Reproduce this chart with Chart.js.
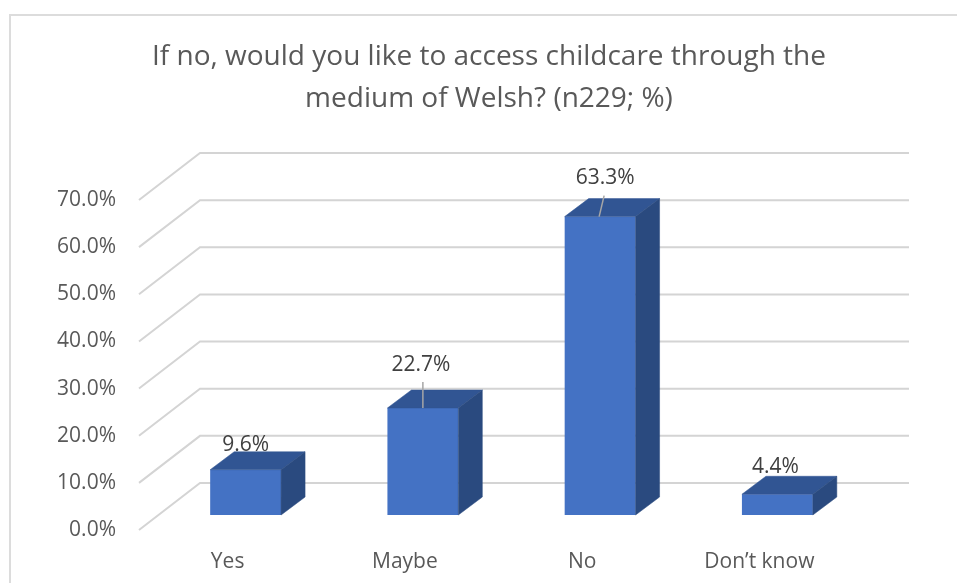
<!DOCTYPE html>
<html>
<head>
<meta charset="utf-8">
<title>Welsh medium childcare</title>
<script src="https://cdn.jsdelivr.net/npm/chart.js@4"></script>
<style>
    html, body { margin: 0; padding: 0; background: #fff; overflow: hidden; }
    #wrap { position: relative; width: 957px; height: 583px; }
</style>
</head>
<body>
<div id="wrap"><canvas id="welshChart" width="957" height="583"></canvas></div>
<script>
// Chart data
const categories = ['Yes', 'Maybe', 'No', 'Don\u2019t know'];
const percentValues = [9.6, 22.7, 63.3, 4.4];
const titleLines = ['If no, would you like to access childcare through the', 'medium of Welsh? (n229; %)'];

// Label placement, one entry per bar
const labelLift = [25, 43, 39, 27];
const labelShift = [0, -2, 5, -2];
const hasLeader = [false, true, true, false];

// 3D look: depth of the floor/walls and of the bars
const WALL_DX = 61, WALL_DY = 47;
const BAR_DX = 24, BAR_DY = 18;
const BAR_SHIFT_X = 18, BAR_SHIFT_Y = 15;

const font = "'Open Sans', sans-serif";

// Border of the chart frame, cut off by the picture on the right and bottom
const framePlugin = {
    id: 'frame',
    beforeDraw(chart) {
        const ctx = chart.ctx;
        ctx.save();
        ctx.strokeStyle = '#dcdcdc';
        ctx.lineWidth = 2;
        ctx.beginPath();
        ctx.moveTo(10, 583);
        ctx.lineTo(10, 15);
        ctx.lineTo(957, 15);
        ctx.stroke();
        ctx.restore();
        // title sits centred further right than the canvas padding would put it
        chart.titleBlock.left = 130;
        chart.titleBlock.right = 848;
    }
};

// Grid on the floor edge and back wall, taken from the y scale ticks
const wallGridPlugin = {
    id: 'wallGrid',
    beforeDatasetsDraw(chart) {
        const { ctx, chartArea, scales } = chart;
        ctx.save();
        ctx.strokeStyle = '#d4d4d4';
        ctx.lineWidth = 2;
        scales.y.ticks.forEach(tick => {
            const y = scales.y.getPixelForValue(tick.value);
            ctx.beginPath();
            ctx.moveTo(chartArea.left, y);
            ctx.lineTo(chartArea.left + WALL_DX, y - WALL_DY);
            ctx.lineTo(chartArea.right + WALL_DX, y - WALL_DY);
            ctx.stroke();
        });
        ctx.restore();
    }
};

function fillFace(ctx, points, color) {
    ctx.fillStyle = color;
    ctx.strokeStyle = color;
    ctx.lineWidth = 0.5;
    ctx.beginPath();
    points.forEach((p, i) => i ? ctx.lineTo(p[0], p[1]) : ctx.moveTo(p[0], p[1]));
    ctx.closePath();
    ctx.fill();
    ctx.stroke();
}

// Shifts the bars into the room and adds top and side faces and the labels
const barBoxPlugin = {
    id: 'barBox',
    beforeDatasetsDraw(chart) {
        chart.ctx.save();
        chart.ctx.translate(BAR_SHIFT_X, -BAR_SHIFT_Y);
    },
    afterDatasetsDraw(chart) {
        const ctx = chart.ctx;
        const bars = chart.getDatasetMeta(0).data;
        // labels go first, the short bars' top faces slightly cover them
        bars.forEach((bar, i) => {
            ctx.fillStyle = '#404040';
            ctx.font = '21px ' + font;
            ctx.textAlign = 'center';
            ctx.textBaseline = 'middle';
            ctx.fillText(percentValues[i].toFixed(1) + '%', bar.x + labelShift[i], bar.y - labelLift[i]);
        });
        bars.forEach(bar => {
            const left = bar.x - bar.width / 2;
            const right = bar.x + bar.width / 2;
            fillFace(ctx, [[left, bar.y], [left + BAR_DX, bar.y - BAR_DY],
                [right + BAR_DX, bar.y - BAR_DY], [right, bar.y]], '#315593');
            fillFace(ctx, [[right, bar.y], [right + BAR_DX, bar.y - BAR_DY],
                [right + BAR_DX, bar.base - BAR_DY], [right, bar.base]], '#2a4a7f');
        });
        bars.forEach((bar, i) => {
            if (hasLeader[i]) {
                ctx.strokeStyle = '#a6a6a6';
                ctx.lineWidth = 1.5;
                ctx.beginPath();
                ctx.moveTo(i === 2 ? bar.x + 4 : bar.x, bar.y - (i === 2 ? 21 : 26));
                ctx.lineTo(bar.x - (i === 2 ? 1 : 0), bar.y);
                ctx.stroke();
            }
        });
        ctx.restore();
    }
};

const chart = new Chart(document.getElementById('welshChart').getContext('2d'), {
    type: 'bar',
    data: {
        labels: categories,
        datasets: [{
            data: percentValues,
            backgroundColor: '#4472c4',
            borderWidth: 0,
            categoryPercentage: 1,
            barPercentage: 0.4,
            clip: false
        }]
    },
    options: {
        responsive: false,
        animation: false,
        layout: {
            padding: { top: 36, left: 57, right: 109, bottom: 0 }
        },
        scales: {
            y: {
                min: 0,
                max: 70,
                afterFit: scale => { scale.width = 82; },
                grid: { display: false },
                border: { display: false },
                ticks: {
                    stepSize: 10,
                    padding: 15,
                    color: '#595959',
                    font: { size: 21, family: font },
                    callback: value => value.toFixed(1) + '%'
                }
            },
            x: {
                afterFit: scale => { scale.height = 53; },
                grid: { display: false },
                border: { display: false },
                ticks: {
                    padding: 11,
                    color: '#595959',
                    maxRotation: 0,
                    autoSkip: false,
                    font: { size: 21, family: font }
                }
            }
        },
        plugins: {
            legend: { display: false },
            tooltip: { enabled: false },
            title: {
                display: true,
                text: titleLines,
                color: '#595959',
                font: { size: 28, weight: 'normal', family: font, lineHeight: 1.5 },
                padding: { top: 0, bottom: 80 }
            }
        }
    },
    plugins: [framePlugin, wallGridPlugin, barBoxPlugin]
});
</script>
</body>
</html>
